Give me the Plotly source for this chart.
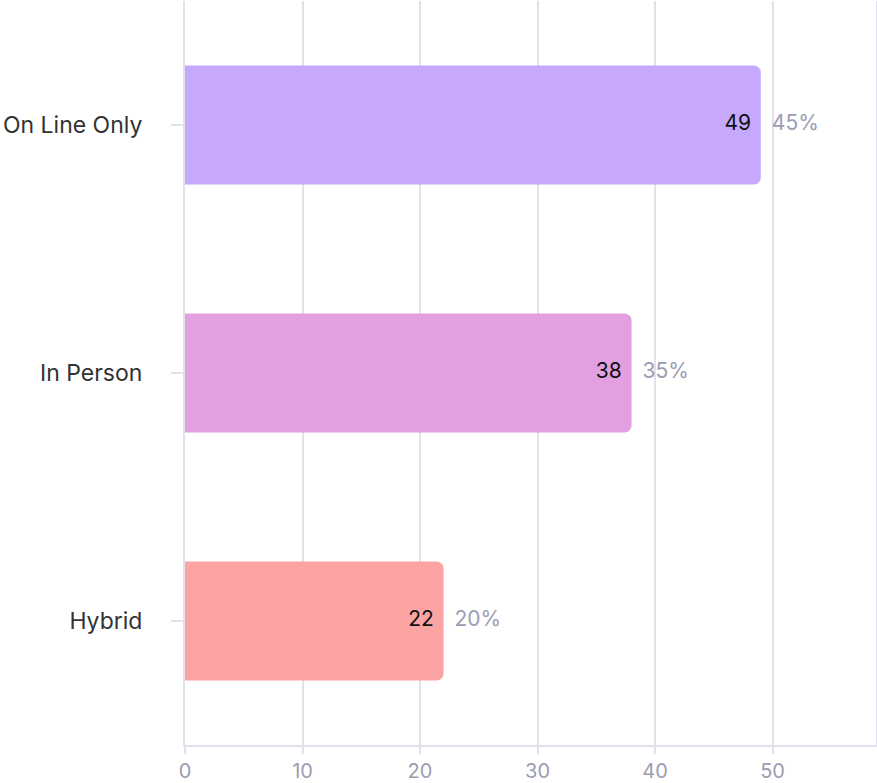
import plotly.graph_objects as go

# data
categories = ["On Line Only", "In Person", "Hybrid"]
counts = [49, 38, 22]
percents = ["45%", "35%", "20%"]
bar_colors = ["#C6A8FD", "#E2A0E3", "#FCA3A3"]

grid = "#E1E1EC"
tick_grey = "#9C9CB3"

fig = go.Figure()
fig.add_trace(go.Bar(
    x=counts, y=categories, orientation="h",
    marker=dict(color=bar_colors, cornerradius=7, line=dict(width=0)),
    width=0.48, hoverinfo="skip",
))
# count labels, just inside the bar end
fig.add_trace(go.Scatter(
    x=counts, y=categories, mode="markers+text",
    text=[str(c) for c in counts], textposition="middle left",
    marker=dict(size=14, opacity=0),
    textfont=dict(family="Inter, sans-serif", size=21, color="#111111"),
    hoverinfo="skip",
))
# percentage labels, just outside
fig.add_trace(go.Scatter(
    x=counts, y=categories, mode="markers+text",
    text=percents, textposition="middle right",
    marker=dict(size=16, opacity=0),
    textfont=dict(family="Inter, sans-serif", size=21, color=tick_grey),
    hoverinfo="skip",
))

fig.update_layout(
    width=877, height=783,
    margin=dict(l=185, r=1, t=1, b=38),
    plot_bgcolor="white", paper_bgcolor="white",
    showlegend=False,
    font=dict(family="Inter, sans-serif"),
    xaxis=dict(
        range=[0, 58.8], tickvals=[0, 10, 20, 30, 40, 50],
        showgrid=True, gridcolor=grid, gridwidth=2,
        zeroline=False, showline=True, linecolor=grid, linewidth=2,
        ticks="outside", ticklen=7, tickcolor=grid, tickwidth=2,
        tickfont=dict(size=20, color=tick_grey), automargin=False,
    ),
    yaxis=dict(
        autorange="reversed", range=[2.5, -0.5],
        showgrid=False, zeroline=False,
        showline=True, mirror=True, linecolor=grid, linewidth=2,
        ticks="outside", ticklen=12, tickcolor=grid, tickwidth=2,
        ticklabelstandoff=24, automargin=False,
        tickfont=dict(size=23, color="#333333"),
    ),
)

fig.write_html("out.html", config={"displayModeBar": False},
               post_script="document.body.style.margin='0';")
